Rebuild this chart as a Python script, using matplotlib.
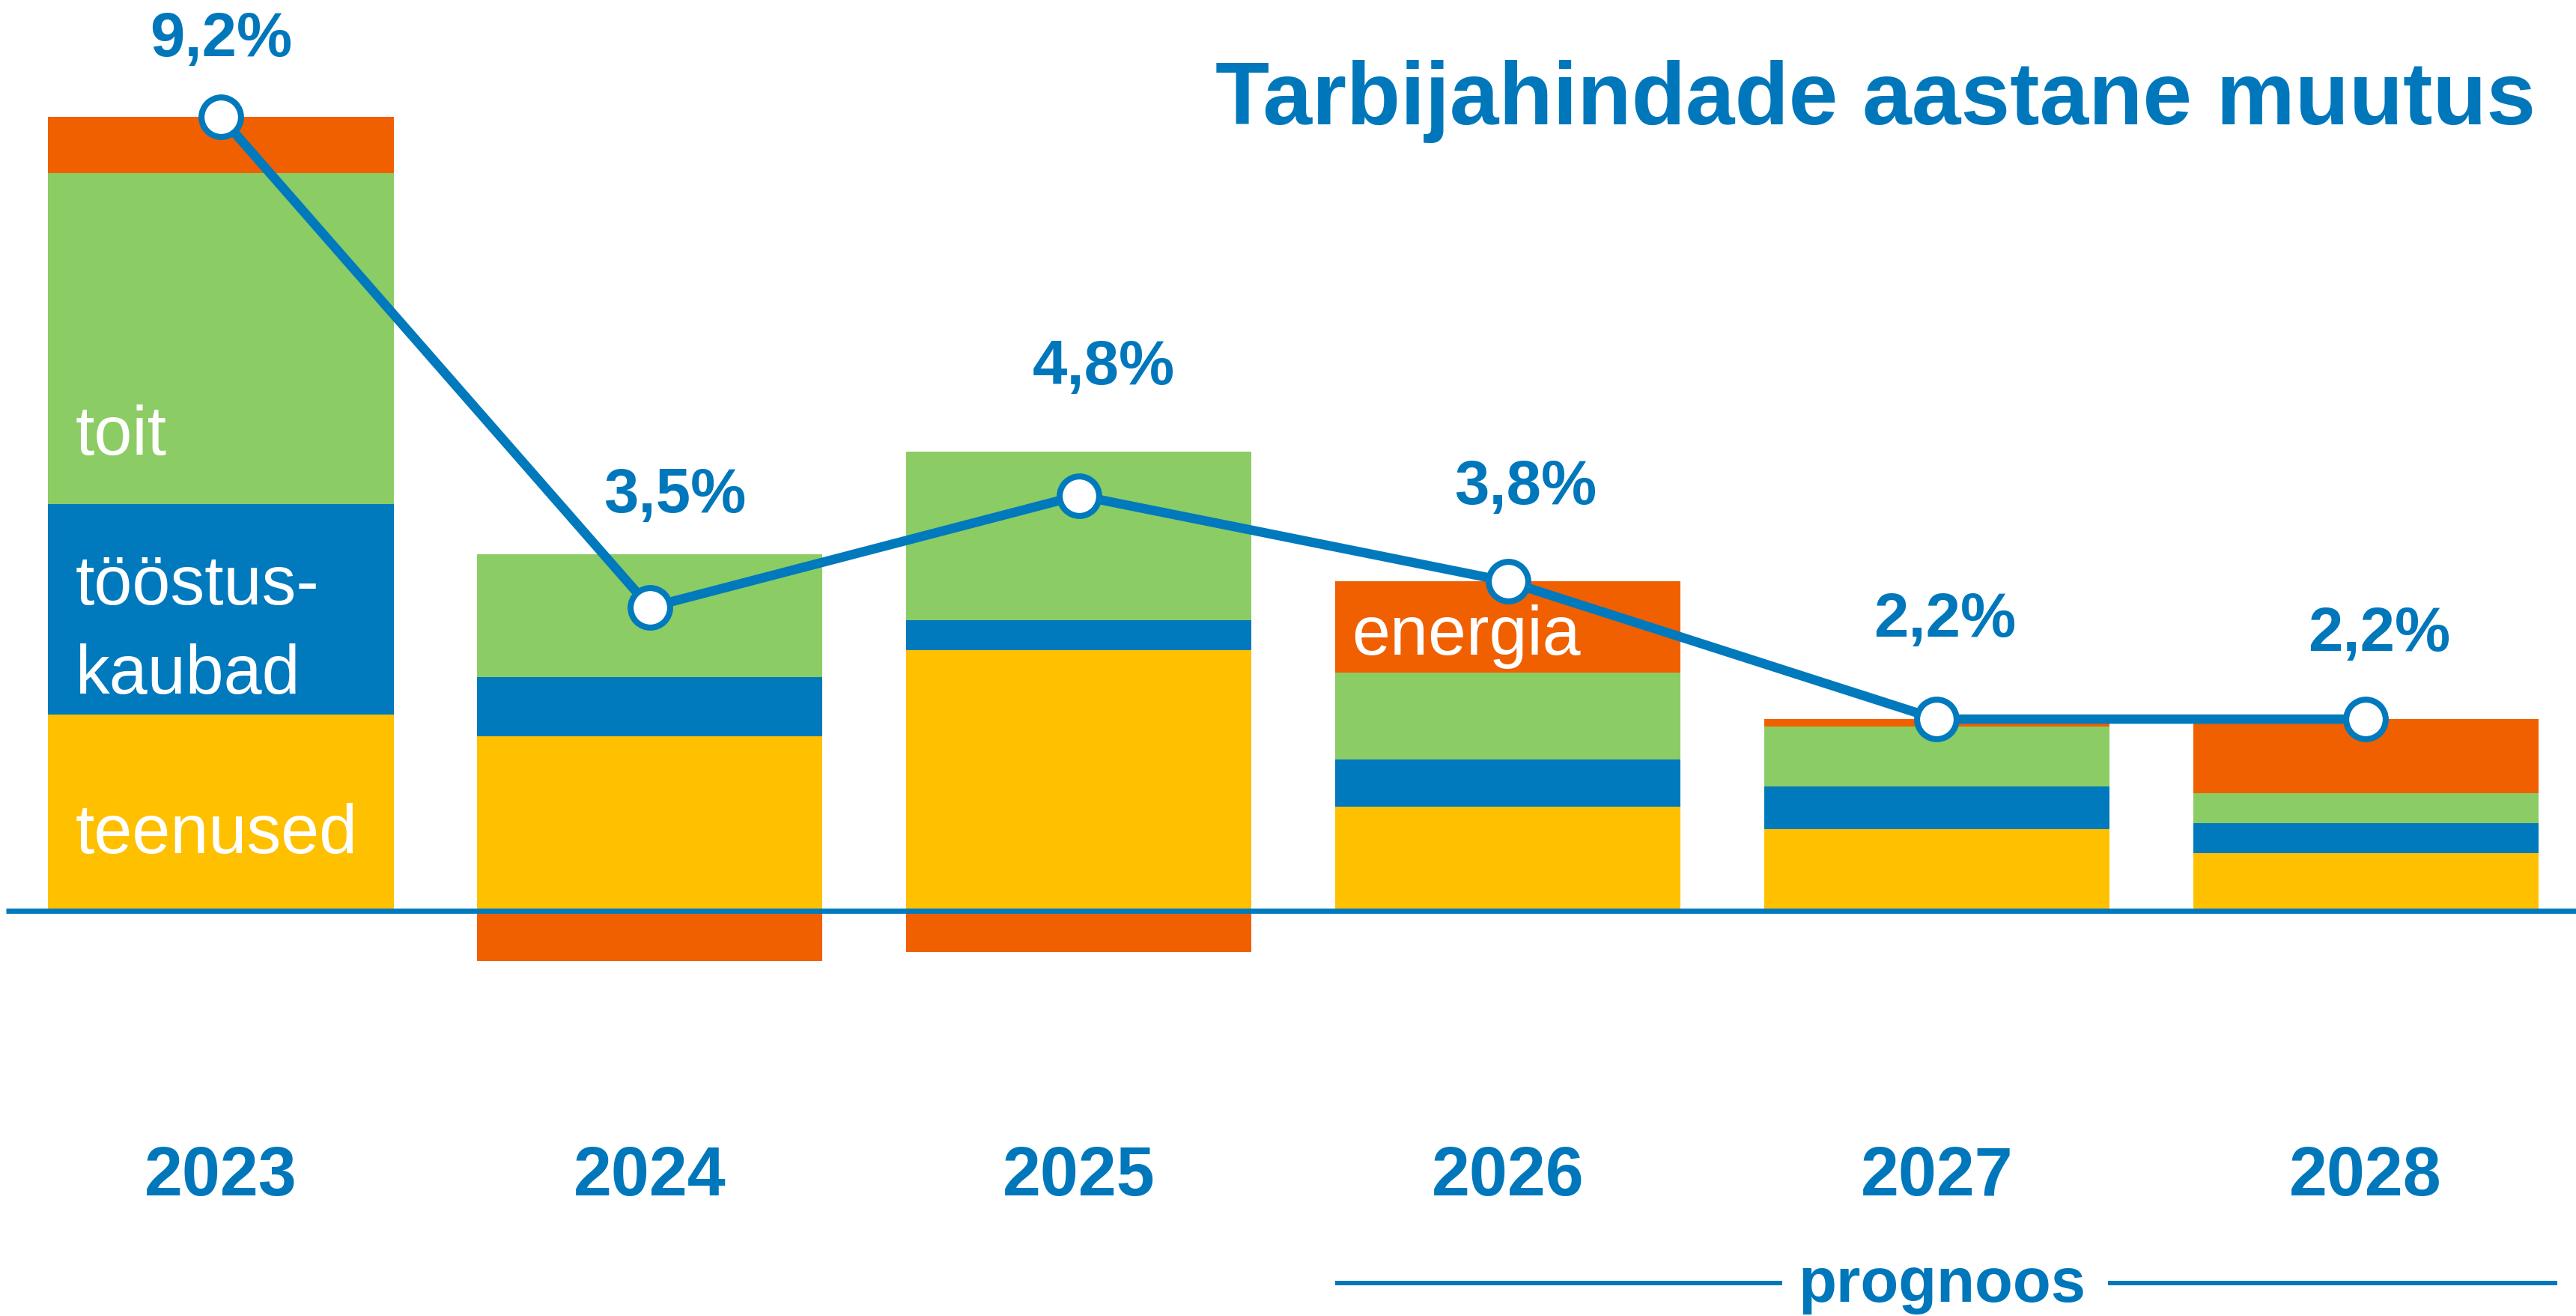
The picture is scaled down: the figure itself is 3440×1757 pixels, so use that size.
import numpy as np
import matplotlib
matplotlib.use('Agg')
import matplotlib.pyplot as plt

plt.rcParams['font.family'] = ['Liberation Sans', 'DejaVu Sans']

# andmed (protsendipunktid)
aastad = ['2023', '2024', '2025', '2026', '2027', '2028']
teenused = [2.25, 2.00, 3.00, 1.18, 0.92, 0.64]
toostuskaubad = [2.45, 0.69, 0.35, 0.55, 0.50, 0.35]
toit = [3.85, 1.43, 1.96, 1.01, 0.69, 0.35]
energia = [0.65, -0.61, -0.51, 1.06, 0.09, 0.86]
kokku = [9.2, 3.5, 4.8, 3.8, 2.2, 2.2]
kokku_sildid = ['9,2%', '3,5%', '4,8%', '3,8%', '2,2%', '2,2%']

# värvid
c_oranz = '#F06000'
c_roheline = '#8BCC64'
c_sinine = '#0079BD'
c_kollane = '#FFC000'
c_tekst = '#0077BB'

# siltide nihked punktide suhtes (punktides)
sildi_nihked = [(0, 59), (24, 92), (24, 108), (17, 75), (8, 80), (13, 66)]

fig = plt.figure(figsize=(34.41, 17.58), dpi=100)
ax = fig.add_axes([0, 0, 1, 1])
ax.set_xlim(-0.515, 5.492)
ax.set_ylim(-4.74, 10.57)
ax.axis('off')

x = np.arange(len(aastad))
w = 0.805
t = np.array(teenused)
k = np.array(toostuskaubad)
f = np.array(toit)
e = np.array(energia)

ax.bar(x, t, w, color=c_kollane, zorder=2)
ax.bar(x, k, w, bottom=t, color=c_sinine, zorder=2)
ax.bar(x, f, w, bottom=t + k, color=c_roheline, zorder=2)
ax.bar(x, e, w, bottom=np.where(e > 0, t + k + f, 0), color=c_oranz, zorder=2)

# nulljoon
ax.plot([-0.501, 5.492], [-0.03, -0.03], color=c_sinine, lw=5, zorder=3,
        solid_capstyle='butt')

# koguinflatsioon
ax.plot(x, kokku, color=c_sinine, lw=9, zorder=4,
        marker='o', ms=38, mfc='white', mec=c_sinine, mew=5.8)

for xi, yi, s, (dx, dy) in zip(x, kokku, kokku_sildid, sildi_nihked):
    ax.annotate(s, (xi, yi), xytext=(dx, dy), textcoords='offset points',
                ha='center', va='baseline', fontsize=60, fontweight='bold',
                color=c_tekst, zorder=5)

# aastad
for xi, a in zip(x, aastad):
    ax.text(xi, -3.33, a, ha='center', va='baseline', fontsize=66,
            fontweight='bold', color=c_tekst)

# komponentide nimed
ax.text(-0.339, 0.65, 'teenused', color='white', fontsize=66, va='baseline', zorder=5)
ax.text(-0.339, 2.51, 'kaubad', color='white', fontsize=66, va='baseline', zorder=5)
ax.text(-0.339, 3.54, 'tööstus-', color='white', fontsize=66, va='baseline', zorder=5)
ax.text(-0.339, 5.28, 'toit', color='white', fontsize=66, va='baseline', zorder=5)
ax.text(2.636, 2.96, 'energia', color='white', fontsize=66, va='baseline', zorder=5)

# prognoos
ax.plot([2.598, 3.640], [-4.36, -4.36], color=c_tekst, lw=4.3, clip_on=False, solid_capstyle='butt')
ax.plot([4.400, 5.446], [-4.36, -4.36], color=c_tekst, lw=4.3, clip_on=False, solid_capstyle='butt')
ax.text(4.013, -4.57, 'prognoos', ha='center', va='baseline', fontsize=60,
        fontweight='bold', color=c_tekst)

# pealkiri
fig.text(0.984, 1 - 166 / 1758, 'Tarbijahindade aastane muutus', ha='right',
         va='baseline', fontsize=85, fontweight='bold', color=c_tekst)

fig.savefig('out.png', dpi=100)
